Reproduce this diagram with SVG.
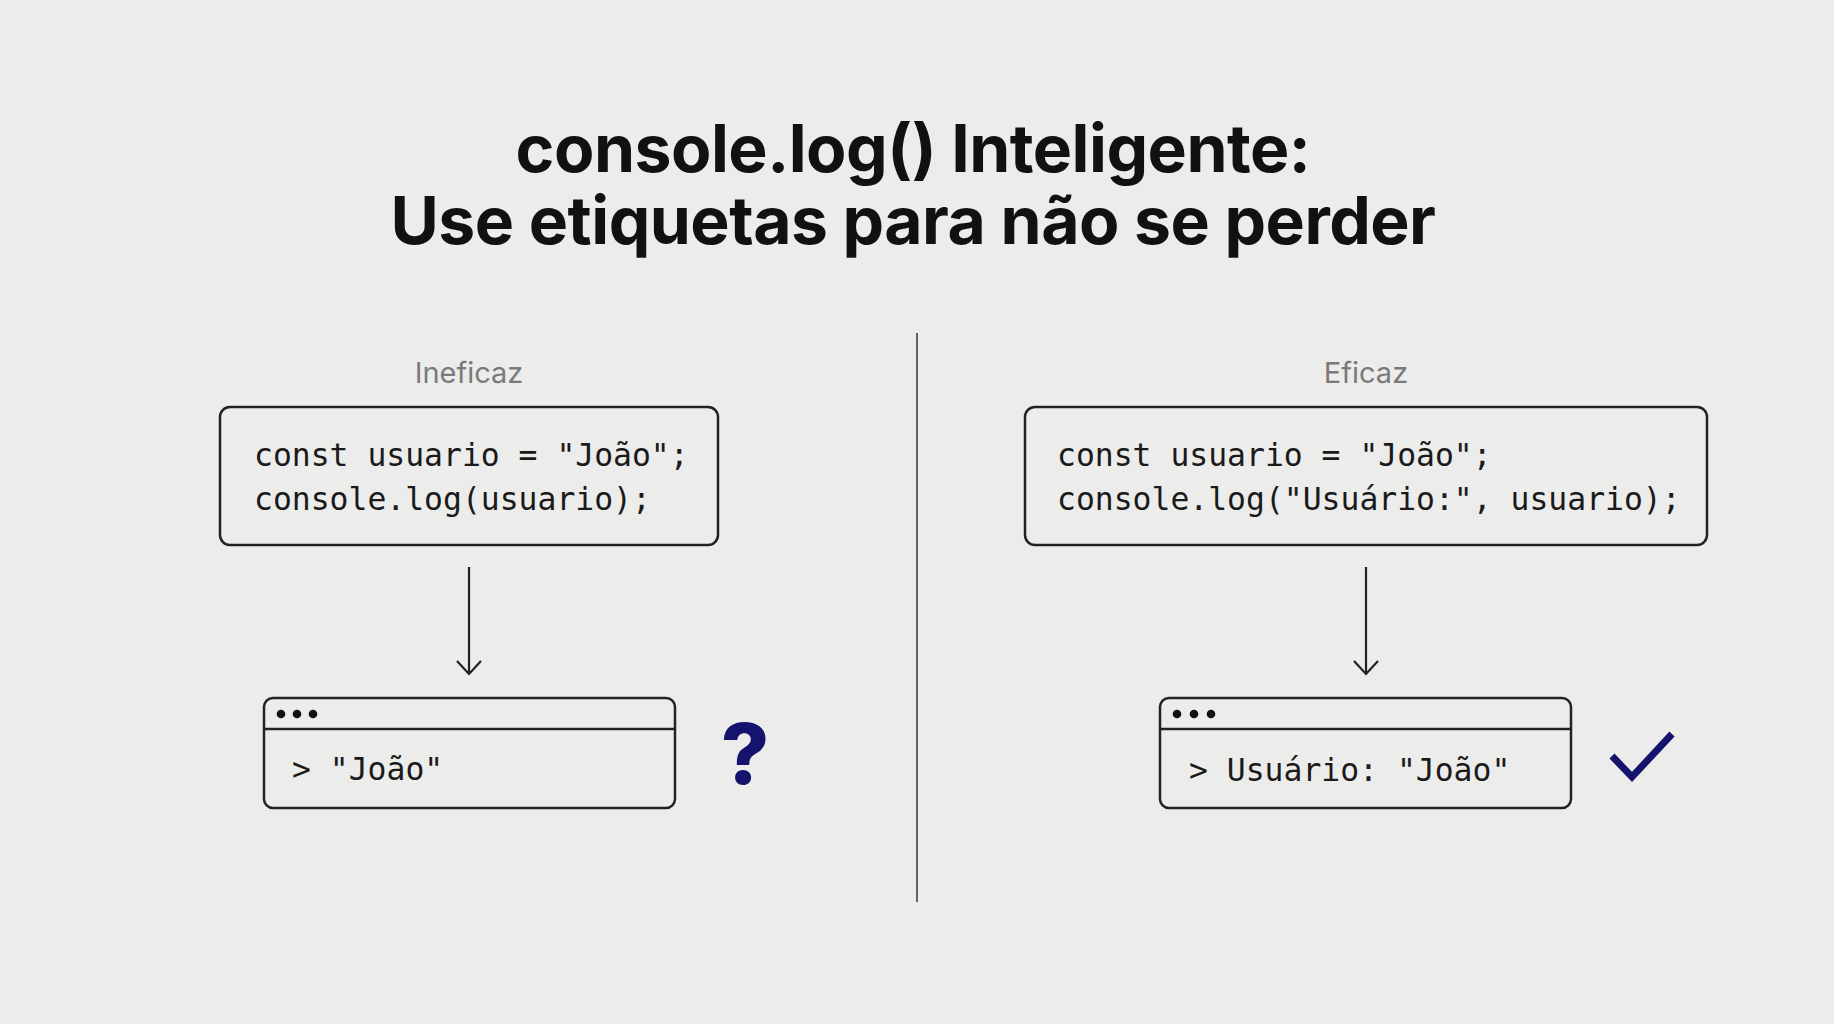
<svg xmlns="http://www.w3.org/2000/svg" width="1834" height="1024" viewBox="0 0 1834 1024">
  <defs>
    <style>
      .title { font-family: Inter, "Liberation Sans", sans-serif; font-weight: 700; font-size: 66px; fill: #111111; text-anchor: middle; letter-spacing: -0.5px; }
      .label { font-family: Inter, "Liberation Sans", sans-serif; font-size: 29px; fill: #7a7a7a; text-anchor: middle; }
      .code { font-family: "DejaVu Sans Mono", "Liberation Mono", monospace; font-size: 31.4px; fill: #1a1a1a; }
      .box { fill: none; stroke: #222222; stroke-width: 2.5; }
      .conn { fill: none; stroke: #222222; stroke-width: 2.2; }
      .dot { fill: #111111; }
    </style>
    <marker id="arrow" viewBox="0 0 16 26" refX="14" refY="13" markerWidth="16" markerHeight="26" markerUnits="userSpaceOnUse" orient="auto">
      <path d="M1,1 L14,13 L1,25" fill="none" stroke="#222222" stroke-width="2.2"/>
    </marker>
  </defs>
  <rect width="1834" height="1024" fill="#ececeb"/>

  <g id="title">
    <text class="title" x="913" y="172">console.log() Inteligente:</text>
    <text class="title" x="913" y="244">Use etiquetas para não se perder</text>
  </g>

  <g id="divider">
    <line x1="917" y1="333" x2="917" y2="902" stroke="#555555" stroke-width="1.8"/>
  </g>

  <g id="label-ineficaz">
    <text class="label" x="469" y="383">Ineficaz</text>
  </g>
  <g id="label-eficaz">
    <text class="label" x="1366" y="383">Eficaz</text>
  </g>

  <g id="code-ineficaz">
    <rect class="box" x="220" y="407" width="498" height="138" rx="10"/>
    <text class="code" x="254" y="466" xml:space="preserve">const usuario = "João";</text>
    <text class="code" x="254" y="510">console.log(usuario);</text>
  </g>

  <g id="code-eficaz">
    <rect class="box" x="1025" y="407" width="682" height="138" rx="10"/>
    <text class="code" x="1057" y="466" xml:space="preserve">const usuario = "João";</text>
    <text class="code" x="1057" y="510" xml:space="preserve">console.log("Usuário:", usuario);</text>
  </g>

  <g id="connectors">
    <line class="conn" x1="469" y1="567" x2="469" y2="674" marker-end="url(#arrow)"/>
    <line class="conn" x1="1366" y1="567" x2="1366" y2="674" marker-end="url(#arrow)"/>
  </g>

  <g id="output-ineficaz">
    <rect class="box" x="264" y="698" width="411" height="110" rx="9"/>
    <line class="box" x1="264" y1="729" x2="675" y2="729"/>
    <circle class="dot" cx="281" cy="714" r="4.3"/>
    <circle class="dot" cx="297" cy="714" r="4.3"/>
    <circle class="dot" cx="313" cy="714" r="4.3"/>
    <text class="code" x="292" y="780" xml:space="preserve">&gt; "João"</text>
  </g>

  <g id="question-mark">
    <text x="745" y="784" font-family="Inter, 'Liberation Sans', sans-serif" font-weight="800" font-size="84" fill="#14146e" text-anchor="middle">?</text>
  </g>

  <g id="output-eficaz">
    <rect class="box" x="1160" y="698" width="411" height="110" rx="9"/>
    <line class="box" x1="1160" y1="729" x2="1571" y2="729"/>
    <circle class="dot" cx="1177" cy="714" r="4.3"/>
    <circle class="dot" cx="1194" cy="714" r="4.3"/>
    <circle class="dot" cx="1211" cy="714" r="4.3"/>
    <text class="code" x="1189" y="781" xml:space="preserve">&gt; Usuário: "João"</text>
  </g>

  <g id="checkmark">
    <path d="M1612,756 L1632,777 L1672,734" fill="none" stroke="#14146e" stroke-width="7"/>
  </g>
</svg>
